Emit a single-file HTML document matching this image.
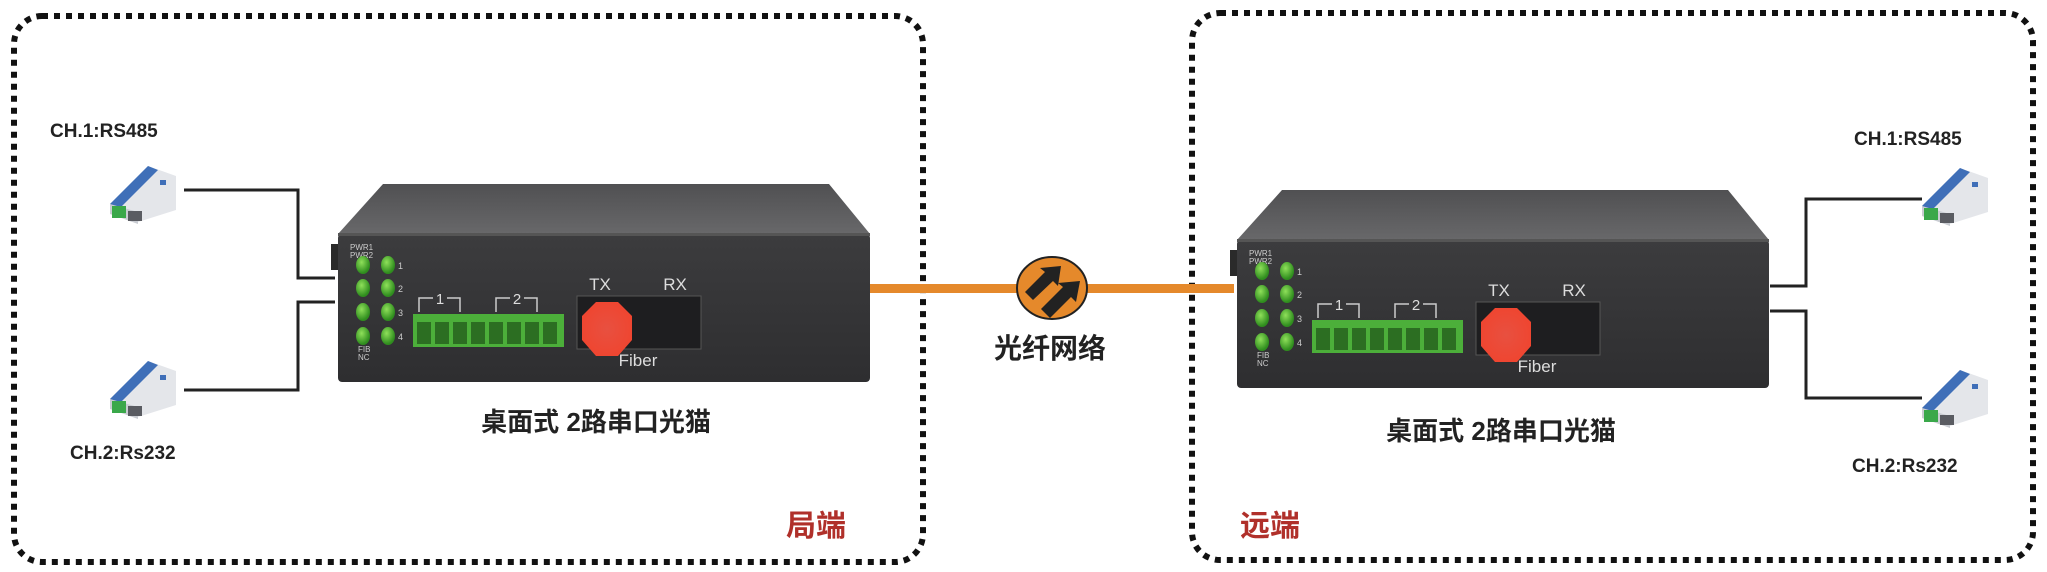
<!DOCTYPE html>
<html><head><meta charset="utf-8"><style>
html,body{margin:0;padding:0;background:#fff}
svg{display:block}
text{font-family:"Liberation Sans","Noto Sans CJK SC",sans-serif}
</style></head><body>
<svg width="2047" height="572" viewBox="0 0 2047 572" xmlns="http://www.w3.org/2000/svg">
<defs>
<linearGradient id="top" x1="0" y1="0" x2="0" y2="1"><stop offset="0" stop-color="#505052"/><stop offset="1" stop-color="#68686a"/></linearGradient>
<linearGradient id="front" x1="0" y1="0" x2="0" y2="1"><stop offset="0" stop-color="#3c3c3e"/><stop offset="1" stop-color="#2e2e30"/></linearGradient>
<radialGradient id="led" cx="0.4" cy="0.35" r="0.6"><stop offset="0" stop-color="#8fe05a"/><stop offset="1" stop-color="#2f8d1e"/></radialGradient>
<radialGradient id="red" cx="0.5" cy="0.5" r="0.6"><stop offset="0" stop-color="#e85040"/><stop offset="1" stop-color="#f0442e"/></radialGradient>
<g id="conv">
<polygon points="0,38 38,0 66,10 66,44 28,56 0,48" fill="#e4e6ea"/>
<polygon points="0,38 38,0 48,4 10,42" fill="#3f6fb8"/>
<polygon points="0,38 28,46 28,58 0,48" fill="#c9ccd2"/>
<rect x="2" y="40" width="14" height="12" fill="#3aa84a"/>
<rect x="18" y="45" width="14" height="10" fill="#5a5c62"/>
<rect x="50" y="14" width="6" height="5" fill="#3f6fb8"/>
</g>
<g id="dev">
<polygon points="45,0 491,0 532,50 0,50" fill="url(#top)"/>
<rect x="0" y="50" width="532" height="148" rx="4" fill="url(#front)"/>
<rect x="0" y="49" width="532" height="3" fill="#555"/>
<rect x="-7" y="60" width="7" height="26" fill="#2a2a2a"/>
<text x="12" y="66" font-size="8" fill="#ccc">PWR1</text>
<text x="12" y="74" font-size="8" fill="#ccc">PWR2</text>
<g fill="url(#led)">
<ellipse cx="25" cy="81" rx="7" ry="9"/><ellipse cx="50" cy="81" rx="7" ry="9"/>
<ellipse cx="25" cy="104" rx="7" ry="9"/><ellipse cx="50" cy="104" rx="7" ry="9"/>
<ellipse cx="25" cy="128" rx="7" ry="9"/><ellipse cx="50" cy="128" rx="7" ry="9"/>
<ellipse cx="25" cy="152" rx="7" ry="9"/><ellipse cx="50" cy="152" rx="7" ry="9"/>
</g>
<g font-size="9" fill="#ccc"><text x="60" y="85">1</text><text x="60" y="108">2</text><text x="60" y="132">3</text><text x="60" y="156">4</text>
<text x="20" y="168" font-size="8">FIB</text><text x="20" y="176" font-size="8">NC</text></g>
<g stroke="#ccc" stroke-width="1.5" fill="none">
<path d="M81,128 V114 H95 M109,114 H122 V128"/><path d="M158,128 V114 H172 M186,114 H199 V128"/>
</g>
<g font-size="15" fill="#ddd" text-anchor="middle"><text x="102" y="120">1</text><text x="179" y="120">2</text><text x="262" y="106" font-size="17">TX</text><text x="337" y="106" font-size="17">RX</text><text x="300" y="182" font-size="17">Fiber</text></g>
<rect x="75" y="130" width="151" height="33" fill="#4caf3a"/>
<g fill="#2c6e22"><rect x="79" y="138" width="14" height="22"/><rect x="97" y="138" width="14" height="22"/><rect x="115" y="138" width="14" height="22"/><rect x="133" y="138" width="14" height="22"/><rect x="151" y="138" width="14" height="22"/><rect x="169" y="138" width="14" height="22"/><rect x="187" y="138" width="14" height="22"/><rect x="205" y="138" width="14" height="22"/></g>
<rect x="239" y="112" width="124" height="53" fill="#1e1e20" stroke="#555" stroke-width="1"/>
<polygon points="258,118 280,118 294,132 294,156 280,172 258,172 244,156 244,132" fill="url(#red)"/>
</g>
</defs>

<rect x="14" y="16" width="909" height="546" rx="28" fill="none" stroke="#111" stroke-width="6" stroke-dasharray="6,6"/>
<rect x="1192" y="13" width="841" height="547" rx="28" fill="none" stroke="#111" stroke-width="6" stroke-dasharray="6,6"/>

<rect x="870" y="284" width="364" height="9" fill="#e5892b"/>
<ellipse cx="1052" cy="288" rx="35" ry="31" fill="#e5892b" stroke="#222" stroke-width="2"/>
<g fill="#222">
<polygon points="1025,292 1045,272 1040,268 1061,266 1058,286 1053,281 1033,300"/>
<polygon points="1041,309 1063,287 1058,283 1080,281 1076,302 1071,297 1050,318"/>
</g>
<text x="1050" y="358" font-size="28" font-weight="bold" text-anchor="middle" fill="#222">光纤网络</text>

<use href="#dev" transform="translate(338,184)"/>
<use href="#dev" transform="translate(1237,190)"/>

<g stroke="#222" stroke-width="3" fill="none">
<path d="M184,190 H298 V278 H335"/>
<path d="M335,302 H298 V390 H184"/>
<path d="M1770,286 H1806 V199 H1922"/>
<path d="M1770,311 H1806 V398 H1922"/>
</g>
<use href="#conv" transform="translate(110,166)"/>
<use href="#conv" transform="translate(110,361)"/>
<use href="#conv" transform="translate(1922,168)"/>
<use href="#conv" transform="translate(1922,370)"/>

<g font-size="19" font-weight="bold" fill="#222">
<text x="50" y="137">CH.1:RS485</text>
<text x="70" y="459">CH.2:Rs232</text>
<text x="1854" y="145">CH.1:RS485</text>
<text x="1852" y="472">CH.2:Rs232</text>
</g>
<g font-size="26" font-weight="bold" fill="#222" text-anchor="middle">
<text x="596" y="431">桌面式 2路串口光猫</text>
<text x="1501" y="440">桌面式 2路串口光猫</text>
</g>
<g font-size="30" font-weight="bold" fill="#b0302a" text-anchor="middle">
<text x="816" y="536">局端</text>
<text x="1270" y="536">远端</text>
</g>
</svg>
</body></html>
